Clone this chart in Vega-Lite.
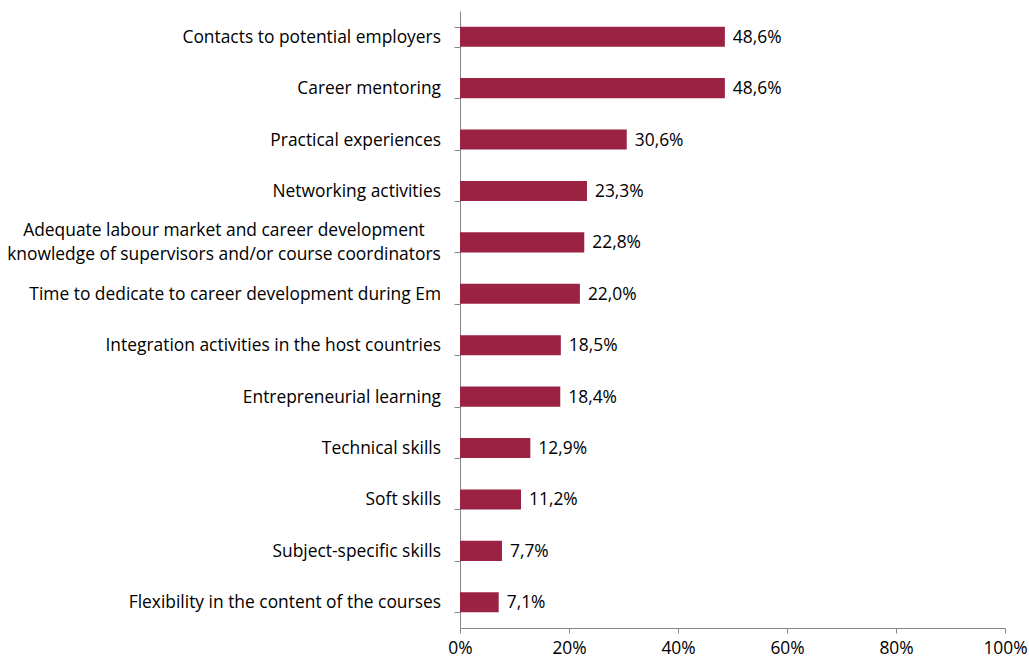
{
  "$schema": "https://vega.github.io/schema/vega-lite/v6.json",
  "autosize": {"type": "none"},
  "width": 545,
  "height": 617,
  "padding": {"left": 460, "top": 11, "right": 24, "bottom": 35},
  "background": "white",
  "config": {
    "view": {"stroke": null},
    "font": "Open Sans",
    "locale": {"number": {"decimal": ",", "thousands": ".", "grouping": [3], "currency": ["", " €"]}}
  },
  "data": {
    "values": [
      {"item": "Contacts to potential employers", "share": 0.486},
      {"item": "Career mentoring", "share": 0.486},
      {"item": "Practical experiences", "share": 0.306},
      {"item": "Networking activities", "share": 0.233},
      {"item": "Adequate labour market and career development|knowledge of supervisors and/or course coordinators", "share": 0.228},
      {"item": "Time to dedicate to career development during Em", "share": 0.220},
      {"item": "Integration activities in the host countries", "share": 0.185},
      {"item": "Entrepreneurial learning", "share": 0.184},
      {"item": "Technical skills", "share": 0.129},
      {"item": "Soft skills", "share": 0.112},
      {"item": "Subject-specific skills", "share": 0.077},
      {"item": "Flexibility in the content of the courses", "share": 0.071}
    ]
  },
  "encoding": {
    "y": {
      "field": "item",
      "type": "nominal",
      "sort": null,
      "scale": {"paddingInner": 0.61, "paddingOuter": 0.305},
      "axis": {
        "title": null,
        "labels": false,
        "tickBand": "extent",
        "tickSize": 6,
        "tickColor": "#868686",
        "domainColor": "#868686"
      }
    },
    "x": {
      "field": "share",
      "type": "quantitative",
      "scale": {"domain": [0, 1], "nice": false},
      "axis": {
        "title": null,
        "format": ".0%",
        "values": [0, 0.2, 0.4, 0.6, 0.8, 1],
        "grid": false,
        "labelFontSize": 17.4,
        "labelColor": "#000000",
        "tickSize": 5,
        "tickColor": "#868686",
        "domainColor": "#868686",
        "labelPadding": 6,
        "labelFlush": false
      }
    }
  },
  "layer": [
    {"mark": {"type": "bar", "color": "#9C2243"}},
    {
      "mark": {"type": "text", "align": "left", "baseline": "middle", "dx": 8, "dy": 1, "fontSize": 17.4, "color": "#000000"},
      "encoding": {"text": {"field": "share", "type": "quantitative", "format": ".1%"}}
    },
    {
      "transform": [{"filter": "indexof(datum.item, '|') < 0"}],
      "mark": {"type": "text", "align": "right", "baseline": "middle", "dx": -19, "dy": 1, "fontSize": 17.4, "color": "#000000"},
      "encoding": {
        "x": {"datum": 0},
        "text": {"field": "item", "type": "nominal"}
      }
    },
    {
      "transform": [{"filter": "indexof(datum.item, '|') >= 0"}],
      "mark": {"type": "text", "align": "center", "baseline": "middle", "dx": -236, "dy": -11, "fontSize": 17.4, "color": "#000000", "lineBreak": "|", "lineHeight": 24},
      "encoding": {
        "x": {"datum": 0},
        "text": {"field": "item", "type": "nominal"}
      }
    }
  ]
}
